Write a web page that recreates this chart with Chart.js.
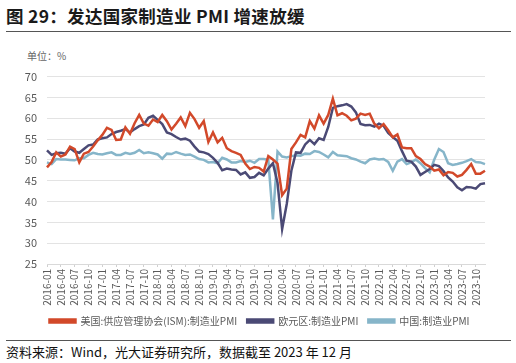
<!DOCTYPE html>
<html><head><meta charset="utf-8">
<script src="https://cdn.jsdelivr.net/npm/chart.js@4.4.0/dist/chart.umd.min.js"></script>
<style>
html,body{margin:0;padding:0;background:#fff;width:516px;height:363px;overflow:hidden;font-family:"Noto Sans CJK SC","Noto Sans",sans-serif;}
#title{position:absolute;left:6px;top:3px;font-size:17.5px;font-weight:bold;color:#1a1a1a;letter-spacing:0.3px;}
#rule1{position:absolute;left:6px;top:31px;width:505px;height:1px;background:#555;}
#unit{position:absolute;left:27px;top:48px;font-size:10px;color:#666;}
#rule2{position:absolute;left:6px;top:340px;width:505px;height:1px;background:#555;}
#src{position:absolute;left:6px;top:342px;font-size:13px;color:#111;}
#wrap{position:absolute;left:0;top:60px;width:516px;height:276px;}
</style></head>
<body>
<div id="title">图 29：发达国家制造业 PMI 增速放缓</div>
<div id="rule1"></div>
<div id="unit">单位：%</div>
<div id="wrap"><canvas id="c"></canvas></div>
<div id="rule2"></div>
<div id="src">资料来源：Wind，光大证券研究所，数据截至 2023 年 12 月</div>
<script>
const years = [2016,2017,2018,2019,2020,2021,2022,2023];
const months = [];
for (const y of years) for (let m=1;m<=12;m++) months.push(y+'-'+String(m).padStart(2,'0'));
const usISM = [
48.2,49.5,51.8,50.8,51.3,53.2,52.6,49.4,51.5,51.9,53.2,54.7,
56.0,57.7,57.2,54.8,54.9,57.8,56.3,58.8,60.8,58.7,58.2,59.7,
59.1,60.8,59.3,57.3,58.7,60.2,58.1,61.3,59.8,57.7,59.3,54.3,
56.6,54.2,55.3,52.8,52.1,51.7,51.2,49.1,47.8,48.3,48.1,47.2,
50.9,50.1,49.1,41.5,43.1,52.6,54.2,56.0,55.4,59.3,57.5,60.7,
58.7,60.8,64.7,60.7,61.2,60.6,59.5,59.9,61.1,60.8,61.1,58.7,
57.6,58.6,57.1,55.4,56.1,53.0,52.8,52.8,50.9,50.2,49.0,48.4,
47.4,47.7,46.3,47.1,46.9,46.0,46.4,47.6,49.0,46.7,46.7,47.4];
const euroPMI = [
52.3,51.2,51.6,51.7,51.5,52.8,52.0,51.7,52.6,53.5,53.7,54.9,
55.2,55.4,56.2,56.7,57.0,57.4,56.6,57.4,58.1,58.5,60.1,60.6,
59.6,58.6,56.6,56.2,55.5,54.9,55.1,54.6,53.2,52.0,51.8,51.4,
50.5,49.3,47.5,47.9,47.7,47.6,46.5,47.0,45.7,45.9,46.9,46.3,
47.9,49.2,44.5,33.4,39.4,47.4,51.8,51.7,53.7,54.8,53.8,55.2,
54.8,57.9,62.5,62.9,63.1,63.4,62.8,61.4,58.6,58.3,58.4,58.0,
58.7,58.2,56.5,55.5,54.6,52.1,49.8,49.6,48.4,46.4,47.1,47.8,
48.8,48.5,47.3,45.8,44.8,43.4,42.7,43.5,43.4,43.1,44.2,44.4];
const chinaPMI = [
49.4,49.0,50.2,50.1,50.1,50.0,49.9,50.4,50.4,51.2,51.7,51.4,
51.3,51.6,51.8,51.2,51.2,51.7,51.4,51.7,52.4,51.6,51.8,51.6,
51.3,50.3,51.5,51.4,51.9,51.5,51.2,51.3,50.8,50.2,50.0,49.4,
49.5,49.2,50.5,50.1,49.4,49.4,49.7,49.5,49.8,49.3,50.2,50.2,
50.0,35.7,52.0,50.8,50.6,50.9,51.1,51.0,51.5,51.4,52.1,51.9,
51.3,50.6,51.9,51.1,51.0,50.9,50.4,50.1,49.6,49.2,50.1,50.3,
50.1,50.2,49.5,47.4,49.6,50.2,49.0,49.4,50.1,49.2,48.0,47.0,
50.1,52.6,51.9,49.2,48.8,49.0,49.3,49.7,50.2,49.5,49.4,49.0];
const seriesNames = ['美国:供应管理协会(ISM):制造业PMI','欧元区:制造业PMI','中国:制造业PMI'];
const yTicks = [25,30,35,40,45,50,55,60,65,70];

const FONT = '"Noto Sans CJK SC","Noto Sans",sans-serif';
const legendShift = {
  id: 'legendShift',
  afterLayout(chart) {
    const lg = chart.legend;
    if (lg) { lg.left += 17; lg.right += 17; }
  }
};
new Chart(document.getElementById('c'), {
  type: 'line',
  data: {
    labels: months,
    datasets: [
      {label: seriesNames[0], data: usISM, borderColor: '#d2492a', backgroundColor: '#d2492a', borderWidth: 2.5, pointRadius: 0, tension: 0},
      {label: seriesNames[1], data: euroPMI, borderColor: '#4b4a75', backgroundColor: '#4b4a75', borderWidth: 2.5, pointRadius: 0, tension: 0},
      {label: seriesNames[2], data: chinaPMI, borderColor: '#86b5c9', backgroundColor: '#86b5c9', borderWidth: 2.5, pointRadius: 0, tension: 0}
    ]
  },
  plugins: [legendShift],
  options: {
    responsive: true, maintainAspectRatio: false, animation: false,
    layout: {padding: {top: 8, right: 31, left: 0, bottom: 0}},
    plugins: {
      legend: {position: 'bottom', labels: {boxWidth: 26, boxHeight: 3, color: '#595959', font: {family: FONT, size: 10}, padding: 10}},
      tooltip: {enabled: false}
    },
    scales: {
      x: {
        offset: false,
        grid: {display: true, drawOnChartArea: false, drawTicks: true, tickLength: 3,
               color: (ctx) => (ctx.index % 3 === 0 ? '#d0d0d0' : 'rgba(0,0,0,0)')},
        border: {display: true, color: '#d9d9d9'},
        ticks: {autoSkip: false, maxRotation: 90, minRotation: 90, color: '#595959', font: {family: FONT, size: 10}, padding: 2,
                callback: function(v, i) { return i % 3 === 0 ? months[i] : ''; }},
        afterFit: (s) => { s.height = 42; }
      },
      y: {
        min: 25, max: 70,
        afterBuildTicks: (s) => { s.ticks = yTicks.map(v => ({value: v})); },
        grid: {color: '#e3e3e3', drawTicks: false, lineWidth: 1},
        border: {display: false},
        ticks: {color: '#595959', font: {family: FONT, size: 11}, padding: 10},
        afterFit: (s) => { s.width = 47; }
      }
    }
  }
});
</script>
</body></html>
